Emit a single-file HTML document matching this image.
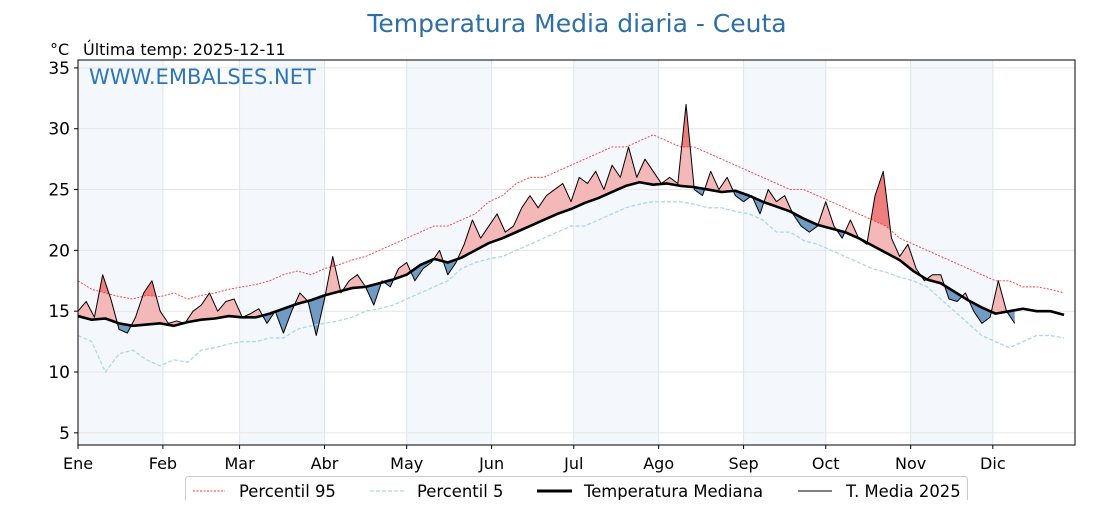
<!DOCTYPE html>
<html><head><meta charset="utf-8"><style>
body{margin:0;background:#fff;width:1120px;height:500px;overflow:hidden}
svg text{font-family:"DejaVu Sans","Liberation Sans",sans-serif}
</style></head><body>
<svg id="chart" width="1120" height="500" viewBox="0 0 1120 500" xmlns="http://www.w3.org/2000/svg">
<text x="577" y="32" text-anchor="middle" font-size="25" fill="#2e6fa5">Temperatura Media diaria - Ceuta</text>
<text x="50" y="55" font-size="16" fill="#000">°C</text>
<text x="83" y="55" font-size="16" fill="#000">Última temp: 2025-12-11</text>
<g id="plot"></g>
<text x="89" y="84" font-size="21" fill="#2e75b6">WWW.EMBALSES.NET</text>
<g>
<rect x="185.5" y="476.5" width="782" height="30" rx="3" fill="#fff" stroke="#ccc"/>
<line x1="193" y1="491" x2="225" y2="491" stroke="#f33" stroke-width="1" stroke-dasharray="2,1.5"/>
<text x="239" y="497" font-size="16.4">Percentil 95</text>
<line x1="370" y1="491" x2="404" y2="491" stroke="#add8e6" stroke-width="1.3" stroke-dasharray="4,2"/>
<text x="417" y="497" font-size="16.4">Percentil 5</text>
<line x1="537" y1="491" x2="572" y2="491" stroke="#000" stroke-width="3"/>
<text x="584" y="497" font-size="16.4">Temperatura Mediana</text>
<line x1="798" y1="491" x2="832" y2="491" stroke="#000" stroke-width="1"/>
<text x="846" y="497" font-size="16.4">T. Media 2025</text>
</g>
</svg>
<script>
const months=["Ene","Feb","Mar","Abr","May","Jun","Jul","Ago","Sep","Oct","Nov","Dic"];
const monthStarts=[0,31,59,90,120,151,181,212,243,273,304,334];
const yTicks=[5,10,15,20,25,30,35];
const median=[14.6,14.3,14.4,14.0,13.8,13.9,14.0,13.8,14.1,14.3,14.4,14.6,14.5,14.5,14.8,15.2,15.6,15.9,16.3,16.6,16.9,17.0,17.3,17.6,18.0,18.8,19.3,19.0,19.4,20.0,20.6,21.0,21.5,22.0,22.5,23.0,23.4,23.9,24.3,24.8,25.3,25.6,25.4,25.5,25.3,25.2,25.0,24.8,24.9,24.5,24.0,23.6,23.2,22.6,22.1,21.8,21.5,21.0,20.4,19.8,19.2,18.3,17.6,17.3,16.6,15.9,15.3,14.8,15.0,15.2,15.0,15.0,14.7];
const p95=[17.5,16.8,16.5,16.2,16.0,16.3,16.2,16.5,16.0,16.3,16.5,16.8,17.0,17.2,17.5,18.0,18.3,18.0,18.5,18.8,19.2,19.5,20.0,20.5,21.0,21.5,22.0,22.0,22.5,23.0,24.0,24.5,25.5,26.0,26.0,26.5,27.0,27.5,28.0,28.5,28.5,29.0,29.5,29.0,28.5,28.5,28.0,27.5,27.0,26.5,26.0,25.5,25.0,25.0,24.5,24.0,23.5,23.0,22.5,22.0,21.0,20.5,20.0,19.5,19.0,18.5,18.0,17.5,17.5,17.0,17.0,16.8,16.5];
const p5=[13.0,12.5,10.0,11.5,11.8,11.0,10.5,11.0,10.8,11.8,12.0,12.3,12.5,12.5,12.8,12.8,13.5,13.8,14.0,14.2,14.5,15.0,15.2,15.5,16.0,16.5,17.0,17.5,18.5,19.0,19.3,19.5,20.0,20.5,21.0,21.5,22.0,22.0,22.5,23.0,23.5,23.8,24.0,24.0,24.0,23.8,23.5,23.5,23.2,23.0,22.5,21.5,21.5,20.8,20.5,20.0,19.5,19.0,18.5,18.2,17.8,17.5,17.0,16.0,15.0,14.0,13.0,12.5,12.0,12.5,13.0,13.0,12.8];
const t2025=[15.0,15.8,14.5,18.0,16.0,13.5,13.2,14.5,16.5,17.5,15.0,14.0,14.2,14.0,15.0,15.5,16.5,15.0,15.8,16.0,14.5,14.8,15.2,14.0,15.0,13.2,15.0,16.5,15.8,13.0,16.0,19.5,16.5,17.5,18.0,17.0,15.5,17.5,17.0,18.5,19.0,17.5,18.5,19.0,20.0,18.0,19.0,20.5,22.5,21.0,22.0,23.0,21.5,22.0,23.5,24.5,23.5,24.5,25.0,25.5,24.0,26.0,25.5,26.5,25.0,27.0,26.0,28.5,26.0,27.5,26.5,25.5,26.0,25.5,32.0,25.0,24.5,26.5,25.0,26.0,24.5,24.0,24.5,23.0,25.0,24.0,24.5,23.0,22.0,21.5,22.0,24.0,22.0,21.0,22.5,21.0,20.5,24.5,26.5,21.0,19.5,20.5,18.5,17.5,18.0,18.0,16.0,15.8,16.5,15.0,14.0,14.5,17.5,15.0,14.0];
const CLIM_STEP=5, T_STEP=3;
const X0=78,X1=1075,Y0=445,Y1=60,XMIN=0,XMAX=364,YMIN=4.0,YMAX=35.65;
const sx=d=>X0+(d-XMIN)/(XMAX-XMIN)*(X1-X0);
const sy=v=>Y0-(v-YMIN)/(YMAX-YMIN)*(Y0-Y1);
const NS="http://www.w3.org/2000/svg";
const plot=document.getElementById('plot');
function mk(tag,attrs,parent){const e=document.createElementNS(NS,tag);for(const k in attrs)e.setAttribute(k,attrs[k]);(parent||plot).appendChild(e);return e;}
function interp(arr,step,d){const i=Math.min(Math.floor(d/step),arr.length-2);const f=(d-i*step)/step;return arr[i]*(1-f)+arr[i+1]*f;}
for(let i=0;i<12;i+=2){const e=mk('rect',{x:sx(monthStarts[i]),y:Y1,width:sx(monthStarts[i+1])-sx(monthStarts[i]),height:Y0-Y1,fill:'#f4f8fc'});

}
yTicks.forEach(v=>{const e=mk('line',{x1:X0,x2:X1,y1:sy(v),y2:sy(v),stroke:'#e6e6e6','stroke-width':1});

});
monthStarts.forEach(d=>{const e=mk('line',{x1:sx(d),x2:sx(d),y1:Y1,y2:Y0,stroke:'#dde6ee','stroke-width':1});

});
const dense=[];for(let d=0;d<=(t2025.length-1)*T_STEP;d+=0.25){dense.push(d);}
function poly(fn,cls,name){let top=[],bot=[];dense.forEach(d=>{const t=interp(t2025,T_STEP,d);const r=fn(d,t);top.push(sx(d)+','+sy(r[0]));bot.push(sx(d)+','+sy(r[1]));});
const e=mk('polygon',{points:top.concat(bot.reverse()).join(' '),fill:cls});

}
poly((d,t)=>{const m=interp(median,CLIM_STEP,d);return [Math.max(t,m),m];},'#f4b8b8','above-median-fill');
poly((d,t)=>{const m=interp(median,CLIM_STEP,d);return [Math.min(t,m),m];},'#6f9bc4','below-median-fill');
poly((d,t)=>{const p=interp(p95,CLIM_STEP,d);return [Math.max(t,p),p];},'#ef7f7f','above-p95-fill');
function line(arr,step,attrs,name){const pts=arr.map((v,i)=>sx(i*step)+','+sy(v)).join(' ');const e=mk('polyline',Object.assign({points:pts,fill:'none'},attrs));

}
line(p95,CLIM_STEP,{stroke:'#f33','stroke-width':0.9,'stroke-dasharray':'2,1.5'},'p95-line');
line(p5,CLIM_STEP,{stroke:'#add8e6','stroke-width':1.3,'stroke-dasharray':'4,2'},'p5-line');
line(t2025,T_STEP,{stroke:'#000','stroke-width':1,'stroke-linejoin':'round'},'t2025-line');
line(median,CLIM_STEP,{stroke:'#000','stroke-width':2.6,'stroke-linejoin':'round'},'median-line');
const fr=mk('rect',{x:X0,y:Y1,width:X1-X0,height:Y0-Y1,fill:'none',stroke:'#000','stroke-width':1});


yTicks.forEach(v=>{mk('line',{x1:X0-4,x2:X0,y1:sy(v),y2:sy(v),stroke:'#000'});
const t=mk('text',{x:X0-8,y:sy(v)+6,'text-anchor':'end','font-size':17});t.textContent=v;

});
months.forEach((m,i)=>{mk('line',{x1:sx(monthStarts[i]),x2:sx(monthStarts[i]),y1:Y0,y2:Y0+4,stroke:'#000'});
const t=mk('text',{x:sx(monthStarts[i]),y:469,'text-anchor':'middle','font-size':16});t.textContent=m;

});
</script>
</body></html>
